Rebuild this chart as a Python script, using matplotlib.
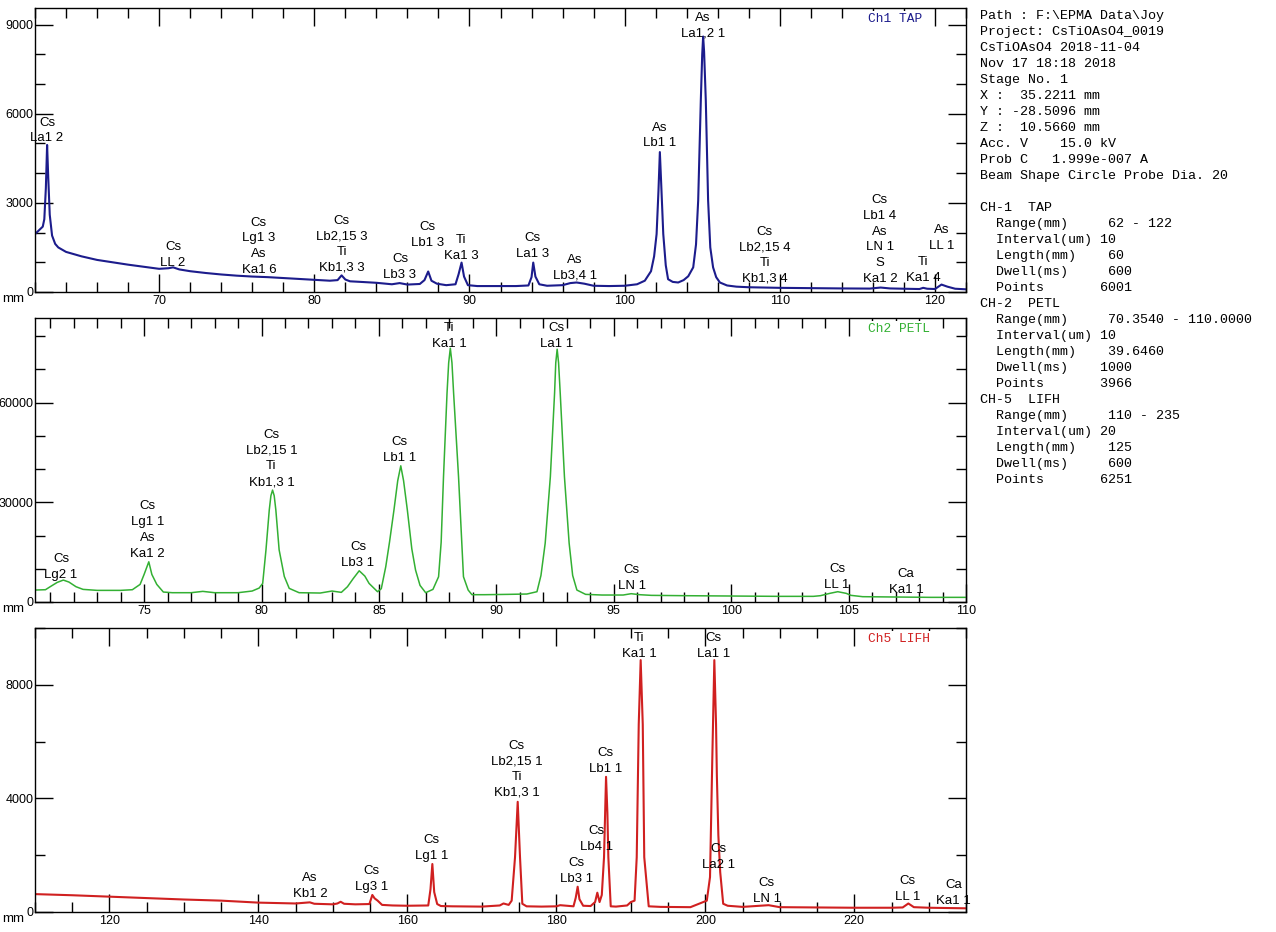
import matplotlib.pyplot as plt
from matplotlib.ticker import MultipleLocator

# ---- Ch1 TAP spectrum (mm, counts) ----
ch1_mm = [62.0, 62.3, 62.5, 62.6, 62.7, 62.78, 62.85, 62.95, 63.1, 63.3, 63.5, 64, 65, 66, 67, 68, 69, 70,
          70.6, 70.9, 71.3, 72, 73, 74, 75, 76, 77, 78, 79, 80, 81, 81.5, 81.76, 82.0, 82.3, 83, 84, 85,
          85.5, 86, 86.8, 87.1, 87.34, 87.55, 87.9, 88.5, 89.1, 89.3, 89.49, 89.65, 89.9, 90.5, 91, 92,
          93, 93.8, 94.0, 94.11, 94.25, 94.5, 95, 96, 96.5, 96.9, 97.4, 98, 99, 100, 100.8, 101.3, 101.7,
          101.9, 102.06, 102.18, 102.27, 102.36, 102.49, 102.65, 102.8, 103.1, 103.45, 103.8, 104.1,
          104.42, 104.6, 104.74, 104.91, 105.0, 105.06, 105.12, 105.23, 105.38, 105.52, 105.7, 105.9,
          106.14, 106.6, 107.2, 108, 110, 112, 114, 115.8, 116.5, 117.1, 118, 119.0, 119.24, 119.5,
          120.0, 120.42, 120.8, 121.3, 122]
ch1_counts = [1950, 2100, 2200, 2450, 3500, 4950, 3900, 2600, 1900, 1620, 1500, 1350, 1200, 1080, 1000, 920,
              850, 780, 800, 830, 760, 700, 640, 590, 550, 520, 500, 470, 440, 410, 380, 400, 560, 420,
              360, 340, 310, 260, 300, 250, 270, 400, 690, 380, 280, 230, 260, 600, 990, 520, 230, 200,
              200, 200, 200, 220, 500, 990, 520, 260, 210, 230, 300, 320, 280, 210, 200, 210, 260, 380,
              700, 1200, 1950, 3400, 4710, 3600, 1950, 900, 430, 340, 320, 400, 530, 830, 1600, 3080,
              6460, 8000, 8600, 8100, 6460, 3080, 1500, 830, 500, 320, 220, 180, 160, 140, 130, 120, 115,
              150, 120, 110, 100, 140, 110, 100, 250, 180, 110, 90]

# ---- Ch2 PETL spectrum ----
ch2_mm = [70.354, 70.8, 71.0, 71.3, 71.56, 71.8, 72.1, 72.4, 73, 74, 74.5, 74.83, 75.0, 75.2, 75.33, 75.54,
          75.82, 76.2, 77, 77.5, 78, 79, 79.6, 79.9, 80.05, 80.19, 80.33, 80.4, 80.47, 80.54, 80.61, 80.75,
          80.97, 81.18, 81.6, 82.5, 83.0, 83.4, 83.66, 83.9, 84.16, 84.4, 84.58, 84.94, 85.1, 85.29, 85.45,
          85.64, 85.8, 85.93, 86.05, 86.21, 86.4, 86.56, 86.75, 86.99, 87.3, 87.54, 87.65, 87.75, 87.9,
          87.97, 88.04, 88.11, 88.18, 88.39, 88.6, 88.8, 88.96, 89.5, 90.5, 91.3, 91.73, 91.9, 92.08, 92.3,
          92.48, 92.53, 92.59, 92.65, 92.72, 92.9, 93.1, 93.25, 93.43, 93.8, 94.5, 95.4, 95.74, 96.1, 96.6,
          98, 100, 102, 103.5, 103.8, 104.2, 104.54, 104.9, 105.1, 105.6, 107, 108.5, 110]
ch2_counts = [3600, 3700, 4600, 5900, 6600, 6000, 4600, 3800, 3500, 3500, 3700, 5300, 8300, 12100, 8300,
              5300, 3000, 2800, 2800, 3200, 2800, 2800, 3300, 4200, 5600, 15700, 27700, 32000, 33700, 32000,
              27700, 15700, 7700, 4100, 2800, 2700, 3300, 2900, 4600, 7000, 9400, 7800, 5600, 3100, 4000,
              10600, 18000, 27700, 36500, 41000, 36500, 27700, 16000, 9600, 5000, 2800, 3800, 7600, 18000,
              37700, 62900, 72000, 76400, 72000, 62900, 37700, 7600, 3600, 2200, 2200, 2300, 2400, 3100,
              8000, 17700, 37700, 62900, 72000, 76100, 72000, 62900, 37700, 17700, 8000, 3600, 2300, 2100,
              2100, 2500, 2200, 2000, 1900, 1800, 1700, 1700, 1900, 2600, 3100, 2600, 2000, 1600, 1500,
              1400, 1400]

# ---- Ch5 LIFH spectrum ----
ch5_mm = [110, 115, 120, 125, 130, 135, 140, 145, 146.9, 147.5, 150, 150.6, 151.04, 151.5, 153, 154.9,
          155.29, 155.6, 156, 156.6, 158, 160, 162.8, 163.1, 163.35, 163.6, 164, 164.5, 166, 170, 172.4,
          172.9, 173.6, 174.0, 174.45, 174.81, 175.12, 175.43, 176, 178, 180, 180.5, 182.3, 182.6,
          182.86, 183.1, 183.6, 184.6, 185.2, 185.5, 185.8, 186.1, 186.4, 186.67, 186.85, 186.98, 187.3,
          188, 189.5, 190.0, 190.5, 190.79, 191.06, 191.32, 191.6, 191.8, 192.4, 194, 198, 200.2,
          200.63, 200.94, 201.21, 201.44, 201.55, 201.75, 202.0, 202.4, 203, 205, 208.5, 210, 215, 220,
          225, 226.5, 227.26, 228, 230, 235]
ch5_counts = [630, 590, 540, 490, 440, 400, 330, 300, 340, 290, 270, 300, 360, 290, 270, 280, 600, 480,
              400, 250, 230, 220, 230, 800, 1690, 700, 280, 210, 200, 190, 230, 300, 250, 400, 1930,
              3880, 1930, 290, 200, 190, 200, 240, 200, 500, 890, 450, 220, 210, 350, 680, 350, 600,
              1930, 4760, 3500, 1930, 200, 190, 230, 350, 400, 1930, 6610, 8870, 6610, 1930, 200, 180,
              170, 400, 1230, 5440, 8870, 6610, 4800, 2700, 1400, 290, 220, 180, 240, 170, 160, 150, 150,
              160, 300, 170, 150, 130]

# ---- peak labels: (mm, counts at label bottom, text) ----
ch1_lab_mm = [62.77, 70.89, 76.43, 81.78, 85.52, 87.32, 89.45, 94.09, 96.79, 102.27, 105.04, 109.04,
              116.45, 119.22, 120.44]
ch1_lab_y = [4970, 780, 540, 610, 370, 1450, 1010, 1080, 340, 4800, 8490, 240, 240, 270, 1350]
ch1_lab_txt = ['Cs\nLa1 2', 'Cs\nLL 2', 'Cs\nLg1 3\nAs\nKa1 6', 'Cs\nLb2,15 3\nTi\nKb1,3 3', 'Cs\nLb3 3',
               'Cs\nLb1 3', 'Ti\nKa1 3', 'Cs\nLa1 3', 'As\nLb3,4 1', 'As\nLb1 1', 'As\nLa1,2 1',
               'Cs\nLb2,15 4\nTi\nKb1,3 4', 'Cs\nLb1 4\nAs\nLN 1\nS\nKa1 2', 'Ti\nKa1 4', 'As\nLL 1']

ch2_lab_mm = [71.46, 75.15, 80.42, 84.11, 85.89, 88.0, 92.57, 95.77, 104.51, 107.45]
ch2_lab_y = [6300, 12700, 34300, 9900, 41600, 75900, 75900, 3000, 3300, 1800]
ch2_lab_txt = ['Cs\nLg2 1', 'Cs\nLg1 1\nAs\nKa1 2', 'Cs\nLb2,15 1\nTi\nKb1,3 1', 'Cs\nLb3 1', 'Cs\nLb1 1',
               'Ti\nKa1 1', 'Cs\nLa1 1', 'Cs\nLN 1', 'Cs\nLL 1', 'Ca\nKa1 1']

ch5_lab_mm = [146.92, 155.2, 163.26, 174.67, 182.73, 185.41, 186.62, 191.14, 201.07, 201.74, 208.24,
              227.18, 233.3]
ch5_lab_y = [420, 670, 1760, 3980, 950, 2080, 4820, 8870, 8870, 1440, 250, 320, 180]
ch5_lab_txt = ['As\nKb1 2', 'Cs\nLg3 1', 'Cs\nLg1 1', 'Cs\nLb2,15 1\nTi\nKb1,3 1', 'Cs\nLb3 1', 'Cs\nLb4 1',
               'Cs\nLb1 1', 'Ti\nKa1 1', 'Cs\nLa1 1', 'Cs\nLa2 1', 'Cs\nLN 1', 'Cs\nLL 1', 'Ca\nKa1 1']

info_lines = [
    'Path : F:\\EPMA Data\\Joy',
    'Project: CsTiOAsO4_0019',
    'CsTiOAsO4 2018-11-04',
    'Nov 17 18:18 2018',
    'Stage No. 1',
    'X :  35.2211 mm',
    'Y : -28.5096 mm',
    'Z :  10.5660 mm',
    'Acc. V    15.0 kV',
    'Prob C   1.999e-007 A',
    'Beam Shape Circle Probe Dia. 20',
    '',
    'CH-1  TAP',
    '  Range(mm)     62 - 122',
    '  Interval(um) 10',
    '  Length(mm)    60',
    '  Dwell(ms)     600',
    '  Points       6001',
    'CH-2  PETL',
    '  Range(mm)     70.3540 - 110.0000',
    '  Interval(um) 10',
    '  Length(mm)    39.6460',
    '  Dwell(ms)    1000',
    '  Points       3966',
    'CH-5  LIFH',
    '  Range(mm)     110 - 235',
    '  Interval(um) 20',
    '  Length(mm)    125',
    '  Dwell(ms)     600',
    '  Points       6251',
]

W, H = 1276, 932
fig = plt.figure(figsize=(W / 100, H / 100), dpi=100)
plt.rcParams['font.family'] = ['Liberation Sans', 'DejaVu Sans']

panels = [
    dict(top=8, x=ch1_mm, y=ch1_counts, color='#1c1c8c', xlim=(62, 122), ylim=(0, 9560),
         xmaj=10, xmin=2, ymaj=3000, ymin=1000, title='Ch1 TAP', lw=1.5,
         lx=ch1_lab_mm, ly=ch1_lab_y, lt=ch1_lab_txt),
    dict(top=318, x=ch2_mm, y=ch2_counts, color='#33b033', xlim=(70.354, 110), ylim=(0, 85500),
         xmaj=5, xmin=1, ymaj=30000, ymin=10000, title='Ch2 PETL', lw=1.1,
         lx=ch2_lab_mm, ly=ch2_lab_y, lt=ch2_lab_txt),
    dict(top=628, x=ch5_mm, y=ch5_counts, color='#d02020', xlim=(110, 235), ylim=(0, 10000),
         xmaj=20, xmin=5, ymaj=4000, ymin=2000, title='Ch5 LIFH', lw=1.5,
         lx=ch5_lab_mm, ly=ch5_lab_y, lt=ch5_lab_txt),
]

for p in panels:
    ax = fig.add_axes([35 / W, 1 - (p['top'] + 284) / H, 931 / W, 284 / H])
    ax.plot(p['x'], p['y'], color=p['color'], lw=p['lw'])
    ax.set_xlim(*p['xlim'])
    ax.set_ylim(*p['ylim'])
    ax.xaxis.set_major_locator(MultipleLocator(p['xmaj']))
    ax.xaxis.set_minor_locator(MultipleLocator(p['xmin']))
    ax.yaxis.set_major_locator(MultipleLocator(p['ymaj']))
    ax.yaxis.set_minor_locator(MultipleLocator(p['ymin']))
    ax.tick_params(which='both', direction='in', top=True, right=True, labelsize=9, pad=2, width=1)
    ax.tick_params(which='major', length=13)
    ax.tick_params(which='minor', length=7)
    ax.tick_params(axis='y', pad=1)
    for s in ax.spines.values():
        s.set_linewidth(1)
    for xx, yy, tt in zip(p['lx'], p['ly'], p['lt']):
        ax.text(xx, yy, tt, ha='center', va='bottom', fontsize=9.5, linespacing=1.42, clip_on=False)
    ax.text(0.895, 0.962, p['title'], transform=ax.transAxes, color=p['color'],
            family='Liberation Mono', fontsize=9.3, va='center', ha='left', zorder=5,
            bbox=dict(facecolor='white', edgecolor='none', pad=1.5))
    fig.text(2 / W, 1 - (p['top'] + 291) / H, 'mm', fontsize=9.5, va='center', ha='left')

for i, line in enumerate(info_lines):
    fig.text(980 / W, 1 - (16 + 16 * i) / H, line, family='Liberation Mono', fontsize=9.6,
             va='center', ha='left')

fig.savefig('out.png', dpi=100)
